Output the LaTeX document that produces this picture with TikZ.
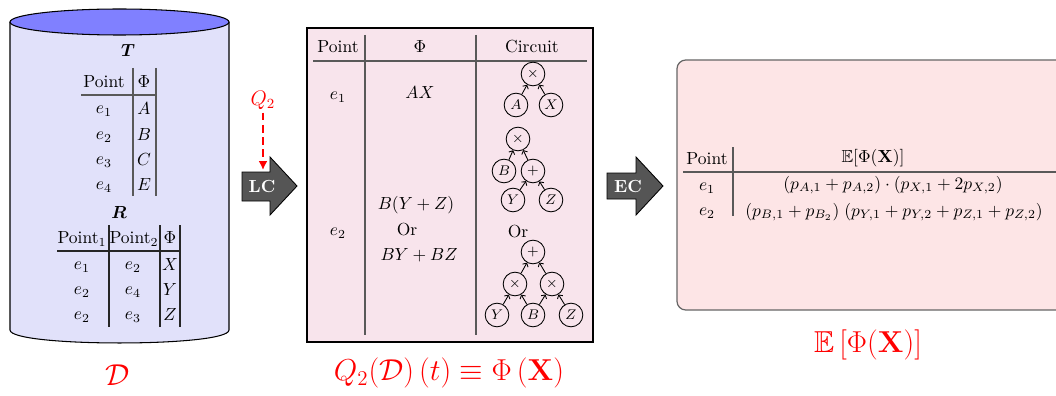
\documentclass[tikz,border=0pt]{standalone}
\usepackage{amsmath,amssymb,bm}
\usetikzlibrary{arrows.meta}
\definecolor{cylbody}{RGB}{225,225,250}
\definecolor{cyltop}{RGB}{128,128,255}
\definecolor{midfill}{RGB}{248,228,236}
\definecolor{rightfill}{RGB}{253,229,230}
\definecolor{arrfill}{RGB}{85,85,85}
\begin{document}
\begin{tikzpicture}[x=0.571pt,y=-0.571pt,
  lbl/.style={inner sep=0pt},
  rul/.style={draw=black!65,line width=0.8pt},
  gate/.style={circle,draw,line width=0.5pt,minimum size=13.5pt,inner sep=0pt,font=\footnotesize},
  wire/.style={-{Straight Barb[length=1.6pt,width=3.6pt]},line width=0.5pt},
  bigarrow/.style={fill=arrfill,draw=black,line width=0.5pt},
  arrtext/.style={text=white,font=\bfseries,inner sep=0pt},
  redlbl/.style={text=red,inner sep=0pt}]
\useasboundingbox (0,0) rectangle (1056,396);

% ---------- cylinder D ----------
\filldraw[fill=cylbody,draw=black,line width=0.6pt]
  (10,22) -- (10,330) .. controls (10,347.3) and (229,347.3) .. (229,330) -- (229,22);
\filldraw[fill=cyltop,draw=black,line width=0.6pt] (119.5,22) ellipse [x radius=109.5, y radius=13];

% table T
\node[lbl] (tT) at (128,50) {$\bm{T}$};
\node[lbl] (tTh1) at (104,82) {Point};
\node[lbl] (tTh2) at (144,82) {$\Phi$};
\draw[rul] (133,68) coordinate (tv1a) -- (133,196) coordinate (tv1b);
\draw[rul] (156,68) coordinate (tv2a) -- (156,196) coordinate (tv2b);
\draw[rul] (81,95) coordinate (th1a) -- (156,95) coordinate (th1b);
\node[lbl] (tTe1) at (104,111) {$e_1$};
\node[lbl] (tTp1) at (144,109) {$A$};
\node[lbl] (tTe2) at (104,137) {$e_2$};
\node[lbl] (tTp2) at (144,135) {$B$};
\node[lbl] (tTe3) at (104,162) {$e_3$};
\node[lbl] (tTp3) at (144,160) {$C$};
\node[lbl] (tTe4) at (104,187) {$e_4$};
\node[lbl] (tTp4) at (144,185) {$E$};

% table R
\node[lbl] (tR) at (119,212) {$\bm{R}$};
\node[lbl] (tRh1) at (82,239) {Point$_1$};
\node[lbl] (tRh2) at (134,239) {Point$_2$};
\node[lbl] (tRh3) at (170,238) {$\Phi$};
\draw[rul,draw=black!85] (109,225) coordinate (rv1a) -- (109,327) coordinate (rv1b);
\draw[rul,draw=black!85] (160,225) coordinate (rv2a) -- (160,327) coordinate (rv2b);
\draw[rul,draw=black!85] (180,225) coordinate (rv3a) -- (180,327) coordinate (rv3b);
\draw[rul,draw=black!85] (57,251) coordinate (rh1a) -- (180,251) coordinate (rh1b);
\node[lbl] (tRa1) at (82,267) {$e_1$};
\node[lbl] (tRb1) at (133,267) {$e_2$};
\node[lbl] (tRc1) at (170,265) {$X$};
\node[lbl] (tRa2) at (82,292) {$e_2$};
\node[lbl] (tRb2) at (133,292) {$e_4$};
\node[lbl] (tRc2) at (170,290) {$Y$};
\node[lbl] (tRa3) at (82,317) {$e_2$};
\node[lbl] (tRb3) at (133,317) {$e_3$};
\node[lbl] (tRc3) at (170,315) {$Z$};

\node[redlbl,font=\LARGE] (Dlbl) at (118,375) {$\mathcal{D}$};

% ---------- Q2 and LC arrow ----------
\node[redlbl,font=\large] (q2) at (263,100) {$Q_2$};
\coordinate (q2tip) at (263,170);
\draw[red,line width=1.1pt,dash pattern=on 4.5pt off 2.5pt,-{Latex[length=5pt,width=5pt]}] (q2.south) ++(0,3) -- (q2tip);

\draw[bigarrow] (242,172) coordinate (lc1) -- (270,172) -- (270,157) -- (297,186) -- (270,215) -- (270,201) -- (242,201) -- cycle;
\node[arrtext] (lc) at (262,186) {LC};

% ---------- middle box ----------
\draw[fill=midfill,draw=black,line width=0.6pt] (307,28) coordinate (mb1) rectangle (593,342) coordinate (mb2);
\draw[rul] (365,35) coordinate (mv1a) -- (365,335) coordinate (mv1b);
\draw[rul] (476,35) coordinate (mv2a) -- (476,335) coordinate (mv2b);
\draw[rul] (313,61) coordinate (mh1a) -- (587,61) coordinate (mh1b);
\node[lbl] (mh1) at (338,47) {Point};
\node[lbl] (mh2) at (420,47) {$\Phi$};
\node[lbl] (mh3) at (532,47) {Circuit};
\node[lbl] (me1) at (338,97) {$e_1$};
\node[lbl] (mf1) at (420,93) {$AX$};
\node[lbl] (me2) at (338,233) {$e_2$};
\node[lbl] (mf2a) at (416,205) {$B(Y+Z)$};
\node[lbl] (mf2b) at (407,230) {Or};
\node[lbl] (mf2c) at (419,255) {$BY+BZ$};

% circuit 1
\node[gate] (c1m) at (533,74) {$\times$};
\node[gate] (c1a) at (516,105) {$A$};
\node[gate] (c1x) at (551,105) {$X$};
\draw[wire] (c1a) -- (c1m);
\draw[wire] (c1x) -- (c1m);

% circuit 2
\node[gate] (c2m) at (518,139) {$\times$};
\node[gate] (c2b) at (504,171) {$B$};
\node[gate] (c2p) at (533,171) {$+$};
\node[gate] (c2y) at (513,200) {$Y$};
\node[gate] (c2z) at (551,200) {$Z$};
\draw[wire] (c2b) -- (c2m);
\draw[wire] (c2p) -- (c2m);
\draw[wire] (c2y) -- (c2p);
\draw[wire] (c2z) -- (c2p);

\node[lbl] (cor) at (518,232) {Or};

% circuit 3
\node[gate] (c3p) at (533,252) {$+$};
\node[gate] (c3l) at (515,284) {$\times$};
\node[gate] (c3r) at (552,284) {$\times$};
\node[gate] (c3y) at (497,315) {$Y$};
\node[gate] (c3b) at (533,315) {$B$};
\node[gate] (c3z) at (571,315) {$Z$};
\draw[wire] (c3l) -- (c3p);
\draw[wire] (c3r) -- (c3p);
\draw[wire] (c3y) -- (c3l);
\draw[wire] (c3b) -- (c3l);
\draw[wire] (c3b) -- (c3r);
\draw[wire] (c3z) -- (c3r);

\node[redlbl,font=\LARGE] (qlbl) at (449,373)
  {$Q_2(\mathcal{D})\left(t\right)\equiv\Phi\left(\mathbf{X}\right)$};

% ---------- EC arrow ----------
\draw[bigarrow] (607,173) coordinate (ec1) -- (636,173) -- (636,157) -- (663,186) -- (636,215) -- (636,199) -- (607,199) -- cycle;
\node[arrtext] (ec) at (628,186) {EC};

% ---------- right box ----------
\draw[fill=rightfill,draw=black!60,line width=0.7pt,rounded corners=5pt] (677,60) coordinate (rb1) rectangle (1075,310) coordinate (rb2);
\draw[rul] (733,147) coordinate (xv1a) -- (733,216) coordinate (xv1b);
\draw[rul] (683,172) coordinate (xh1a) -- (1060,172) coordinate (xh1b);
\node[lbl] (xh1) at (707,159) {Point};
\node[lbl] (xh2) at (873,158) {$\mathbb{E}[\Phi(\mathbf{X})]$};
\node[lbl] (xe1) at (707,188) {$e_1$};
\node[lbl] (xe2) at (707,213) {$e_2$};
\node[lbl] (xf1) at (893,185) {$(p_{A,1}+p_{A,2})\cdot(p_{X,1}+2p_{X,2})$};
\node[lbl] (xf2) at (894,212) {$\left(p_{B,1}+p_{B_2}\right)\mkern2mu\left(p_{Y,1}+p_{Y,2}+p_{Z,1}+p_{Z,2}\right)$};

\node[redlbl,font=\LARGE] (elbl) at (868,345) {$\mathbb{E}\left[\Phi(\mathbf{X})\right]$};
\end{tikzpicture}
\end{document}
